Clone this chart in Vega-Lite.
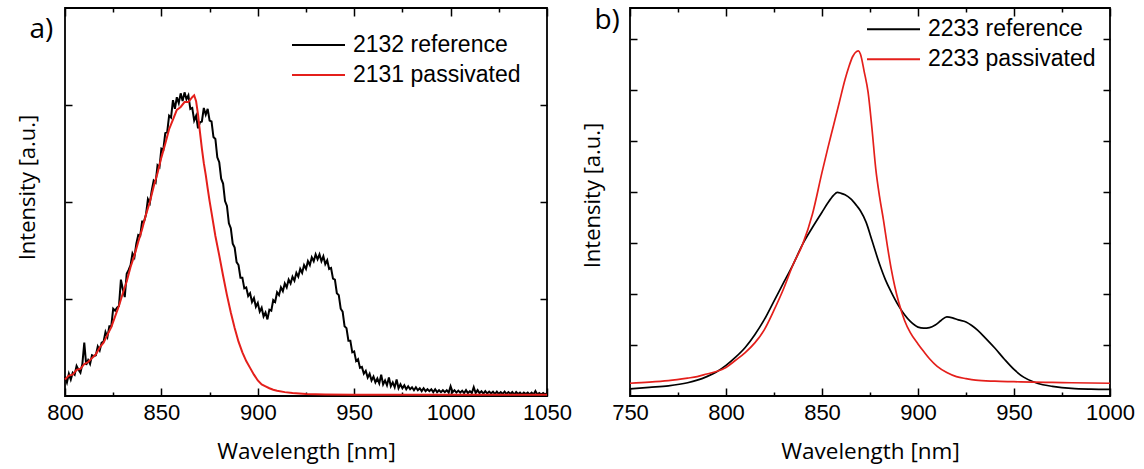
{
"$schema": "https://vega.github.io/schema/vega-lite/v6.json",
"background": "white",
"padding": {"left": 15, "top": 6, "right": 10, "bottom": 12},
"bounds": "flush",
"spacing": 83,
"config": {
  "view": {"stroke": "black", "strokeWidth": 1.8},
  "axis": {"grid": false, "domain": false, "minExtent": 0, "labelFont": "Liberation Sans", "labelFontSize": 22, "labelColor": "black", "titleFont": "Open Sans", "titleFontWeight": "normal", "titleColor": "black", "tickColor": "black", "tickWidth": 1.5, "labelFlush": false, "labelOverlap": false, "labelBound": false, "format": "d"},
  "legend": {"orient": "none", "title": null, "symbolType": "stroke", "symbolSize": 2809, "symbolStrokeWidth": 2, "symbolOpacity": 1, "clipHeight": 23, "labelFont": "Liberation Sans", "labelFontSize": 23, "labelColor": "black", "labelOffset": 7, "rowPadding": 6, "padding": 0, "labelLimit": 400}
},
"datasets": {
"pa": [{"label": "a)"}],
"pb": [{"label": "b)"}],
"a": [
{"w":800,"i":0.20,"s":"2132 reference"},{"w":801,"i":0.14,"s":"2132 reference"},{"w":802,"i":0.23,"s":"2132 reference"},{"w":803,"i":0.17,"s":"2132 reference"},{"w":804,"i":0.24,"s":"2132 reference"},{"w":805,"i":0.22,"s":"2132 reference"},{"w":806,"i":0.31,"s":"2132 reference"},{"w":807,"i":0.27,"s":"2132 reference"},{"w":808,"i":0.24,"s":"2132 reference"},{"w":809,"i":0.33,"s":"2132 reference"},
{"w":810,"i":0.55,"s":"2132 reference"},{"w":811,"i":0.32,"s":"2132 reference"},{"w":812,"i":0.37,"s":"2132 reference"},{"w":813,"i":0.33,"s":"2132 reference"},{"w":814,"i":0.42,"s":"2132 reference"},{"w":815,"i":0.41,"s":"2132 reference"},{"w":816,"i":0.42,"s":"2132 reference"},{"w":817,"i":0.51,"s":"2132 reference"},{"w":818,"i":0.47,"s":"2132 reference"},{"w":819,"i":0.55,"s":"2132 reference"},
{"w":820,"i":0.56,"s":"2132 reference"},{"w":821,"i":0.66,"s":"2132 reference"},{"w":822,"i":0.61,"s":"2132 reference"},{"w":823,"i":0.72,"s":"2132 reference"},{"w":824,"i":0.72,"s":"2132 reference"},{"w":825,"i":0.90,"s":"2132 reference"},{"w":826,"i":0.88,"s":"2132 reference"},{"w":827,"i":0.91,"s":"2132 reference"},{"w":828,"i":0.93,"s":"2132 reference"},{"w":829,"i":1.20,"s":"2132 reference"},
{"w":830,"i":1.10,"s":"2132 reference"},{"w":831,"i":1.02,"s":"2132 reference"},{"w":832,"i":1.26,"s":"2132 reference"},{"w":833,"i":1.30,"s":"2132 reference"},{"w":834,"i":1.35,"s":"2132 reference"},{"w":835,"i":1.47,"s":"2132 reference"},{"w":836,"i":1.43,"s":"2132 reference"},{"w":837,"i":1.57,"s":"2132 reference"},{"w":838,"i":1.66,"s":"2132 reference"},{"w":839,"i":1.65,"s":"2132 reference"},
{"w":840,"i":1.80,"s":"2132 reference"},{"w":841,"i":1.80,"s":"2132 reference"},{"w":842,"i":1.87,"s":"2132 reference"},{"w":843,"i":2.03,"s":"2132 reference"},{"w":844,"i":1.99,"s":"2132 reference"},{"w":845,"i":2.12,"s":"2132 reference"},{"w":846,"i":2.22,"s":"2132 reference"},{"w":847,"i":2.20,"s":"2132 reference"},{"w":848,"i":2.38,"s":"2132 reference"},{"w":849,"i":2.36,"s":"2132 reference"},
{"w":850,"i":2.55,"s":"2132 reference"},{"w":851,"i":2.54,"s":"2132 reference"},{"w":852,"i":2.71,"s":"2132 reference"},{"w":853,"i":2.72,"s":"2132 reference"},{"w":854,"i":2.89,"s":"2132 reference"},{"w":855,"i":2.87,"s":"2132 reference"},{"w":856,"i":3.05,"s":"2132 reference"},{"w":857,"i":2.96,"s":"2132 reference"},{"w":858,"i":3.08,"s":"2132 reference"},{"w":859,"i":3.02,"s":"2132 reference"},
{"w":860,"i":3.12,"s":"2132 reference"},{"w":861,"i":3.04,"s":"2132 reference"},{"w":862,"i":3.13,"s":"2132 reference"},{"w":863,"i":3.06,"s":"2132 reference"},{"w":864,"i":3.10,"s":"2132 reference"},{"w":865,"i":2.96,"s":"2132 reference"},{"w":866,"i":2.97,"s":"2132 reference"},{"w":867,"i":2.84,"s":"2132 reference"},{"w":868,"i":2.89,"s":"2132 reference"},{"w":869,"i":2.76,"s":"2132 reference"},
{"w":870,"i":2.82,"s":"2132 reference"},{"w":871,"i":2.83,"s":"2132 reference"},{"w":872,"i":2.97,"s":"2132 reference"},{"w":873,"i":2.90,"s":"2132 reference"},{"w":874,"i":2.96,"s":"2132 reference"},{"w":875,"i":2.84,"s":"2132 reference"},{"w":876,"i":2.83,"s":"2132 reference"},{"w":877,"i":2.67,"s":"2132 reference"},{"w":878,"i":2.65,"s":"2132 reference"},{"w":879,"i":2.46,"s":"2132 reference"},
{"w":880,"i":2.41,"s":"2132 reference"},{"w":881,"i":2.24,"s":"2132 reference"},{"w":882,"i":2.19,"s":"2132 reference"},{"w":883,"i":2.01,"s":"2132 reference"},{"w":884,"i":1.96,"s":"2132 reference"},{"w":885,"i":1.78,"s":"2132 reference"},{"w":886,"i":1.73,"s":"2132 reference"},{"w":887,"i":1.57,"s":"2132 reference"},{"w":888,"i":1.53,"s":"2132 reference"},{"w":889,"i":1.38,"s":"2132 reference"},
{"w":890,"i":1.35,"s":"2132 reference"},{"w":891,"i":1.22,"s":"2132 reference"},{"w":892,"i":1.22,"s":"2132 reference"},{"w":893,"i":1.11,"s":"2132 reference"},{"w":894,"i":1.12,"s":"2132 reference"},{"w":895,"i":1.03,"s":"2132 reference"},{"w":896,"i":1.06,"s":"2132 reference"},{"w":897,"i":0.97,"s":"2132 reference"},{"w":898,"i":1.01,"s":"2132 reference"},{"w":899,"i":0.92,"s":"2132 reference"},
{"w":900,"i":0.96,"s":"2132 reference"},{"w":901,"i":0.87,"s":"2132 reference"},{"w":902,"i":0.91,"s":"2132 reference"},{"w":903,"i":0.82,"s":"2132 reference"},{"w":904,"i":0.86,"s":"2132 reference"},{"w":905,"i":0.79,"s":"2132 reference"},{"w":906,"i":0.89,"s":"2132 reference"},{"w":907,"i":0.88,"s":"2132 reference"},{"w":908,"i":0.99,"s":"2132 reference"},{"w":909,"i":0.97,"s":"2132 reference"},
{"w":910,"i":1.07,"s":"2132 reference"},{"w":911,"i":1.04,"s":"2132 reference"},{"w":912,"i":1.12,"s":"2132 reference"},{"w":913,"i":1.08,"s":"2132 reference"},{"w":914,"i":1.16,"s":"2132 reference"},{"w":915,"i":1.12,"s":"2132 reference"},{"w":916,"i":1.20,"s":"2132 reference"},{"w":917,"i":1.16,"s":"2132 reference"},{"w":918,"i":1.23,"s":"2132 reference"},{"w":919,"i":1.19,"s":"2132 reference"},
{"w":920,"i":1.27,"s":"2132 reference"},{"w":921,"i":1.23,"s":"2132 reference"},{"w":922,"i":1.31,"s":"2132 reference"},{"w":923,"i":1.27,"s":"2132 reference"},{"w":924,"i":1.35,"s":"2132 reference"},{"w":925,"i":1.31,"s":"2132 reference"},{"w":926,"i":1.39,"s":"2132 reference"},{"w":927,"i":1.35,"s":"2132 reference"},{"w":928,"i":1.43,"s":"2132 reference"},{"w":929,"i":1.39,"s":"2132 reference"},
{"w":930,"i":1.46,"s":"2132 reference"},{"w":931,"i":1.41,"s":"2132 reference"},{"w":932,"i":1.46,"s":"2132 reference"},{"w":933,"i":1.39,"s":"2132 reference"},{"w":934,"i":1.44,"s":"2132 reference"},{"w":935,"i":1.36,"s":"2132 reference"},{"w":936,"i":1.40,"s":"2132 reference"},{"w":937,"i":1.31,"s":"2132 reference"},{"w":938,"i":1.32,"s":"2132 reference"},{"w":939,"i":1.21,"s":"2132 reference"},
{"w":940,"i":1.20,"s":"2132 reference"},{"w":941,"i":1.06,"s":"2132 reference"},{"w":942,"i":1.04,"s":"2132 reference"},{"w":943,"i":0.90,"s":"2132 reference"},{"w":944,"i":0.87,"s":"2132 reference"},{"w":945,"i":0.72,"s":"2132 reference"},{"w":946,"i":0.70,"s":"2132 reference"},{"w":947,"i":0.57,"s":"2132 reference"},{"w":948,"i":0.57,"s":"2132 reference"},{"w":949,"i":0.45,"s":"2132 reference"},
{"w":950,"i":0.46,"s":"2132 reference"},{"w":951,"i":0.36,"s":"2132 reference"},{"w":952,"i":0.38,"s":"2132 reference"},{"w":953,"i":0.29,"s":"2132 reference"},{"w":954,"i":0.30,"s":"2132 reference"},{"w":955,"i":0.23,"s":"2132 reference"},{"w":956,"i":0.26,"s":"2132 reference"},{"w":957,"i":0.19,"s":"2132 reference"},{"w":958,"i":0.23,"s":"2132 reference"},{"w":959,"i":0.16,"s":"2132 reference"},
{"w":960,"i":0.20,"s":"2132 reference"},{"w":961,"i":0.14,"s":"2132 reference"},{"w":962,"i":0.18,"s":"2132 reference"},{"w":963,"i":0.13,"s":"2132 reference"},{"w":964,"i":0.22,"s":"2132 reference"},{"w":965,"i":0.12,"s":"2132 reference"},{"w":966,"i":0.16,"s":"2132 reference"},{"w":967,"i":0.11,"s":"2132 reference"},{"w":968,"i":0.19,"s":"2132 reference"},{"w":969,"i":0.10,"s":"2132 reference"},
{"w":970,"i":0.14,"s":"2132 reference"},{"w":971,"i":0.09,"s":"2132 reference"},{"w":972,"i":0.17,"s":"2132 reference"},{"w":973,"i":0.08,"s":"2132 reference"},{"w":974,"i":0.12,"s":"2132 reference"},{"w":975,"i":0.08,"s":"2132 reference"},{"w":976,"i":0.11,"s":"2132 reference"},{"w":977,"i":0.07,"s":"2132 reference"},{"w":978,"i":0.10,"s":"2132 reference"},{"w":979,"i":0.07,"s":"2132 reference"},
{"w":980,"i":0.09,"s":"2132 reference"},{"w":981,"i":0.06,"s":"2132 reference"},{"w":982,"i":0.09,"s":"2132 reference"},{"w":983,"i":0.06,"s":"2132 reference"},{"w":984,"i":0.08,"s":"2132 reference"},{"w":985,"i":0.05,"s":"2132 reference"},{"w":986,"i":0.08,"s":"2132 reference"},{"w":987,"i":0.05,"s":"2132 reference"},{"w":988,"i":0.07,"s":"2132 reference"},{"w":989,"i":0.05,"s":"2132 reference"},
{"w":990,"i":0.07,"s":"2132 reference"},{"w":991,"i":0.04,"s":"2132 reference"},{"w":992,"i":0.07,"s":"2132 reference"},{"w":993,"i":0.04,"s":"2132 reference"},{"w":994,"i":0.06,"s":"2132 reference"},{"w":995,"i":0.04,"s":"2132 reference"},{"w":996,"i":0.06,"s":"2132 reference"},{"w":997,"i":0.04,"s":"2132 reference"},{"w":998,"i":0.06,"s":"2132 reference"},{"w":999,"i":0.035,"s":"2132 reference"},
{"w":1000,"i":0.10,"s":"2132 reference"},{"w":1001,"i":0.04,"s":"2132 reference"},{"w":1002,"i":0.06,"s":"2132 reference"},{"w":1003,"i":0.035,"s":"2132 reference"},{"w":1004,"i":0.055,"s":"2132 reference"},{"w":1005,"i":0.035,"s":"2132 reference"},{"w":1006,"i":0.055,"s":"2132 reference"},{"w":1007,"i":0.03,"s":"2132 reference"},{"w":1008,"i":0.06,"s":"2132 reference"},{"w":1009,"i":0.03,"s":"2132 reference"},
{"w":1010,"i":0.05,"s":"2132 reference"},{"w":1011,"i":0.03,"s":"2132 reference"},{"w":1012,"i":0.09,"s":"2132 reference"},{"w":1013,"i":0.03,"s":"2132 reference"},{"w":1014,"i":0.06,"s":"2132 reference"},{"w":1015,"i":0.03,"s":"2132 reference"},{"w":1016,"i":0.05,"s":"2132 reference"},{"w":1017,"i":0.025,"s":"2132 reference"},{"w":1018,"i":0.05,"s":"2132 reference"},{"w":1019,"i":0.025,"s":"2132 reference"},
{"w":1020,"i":0.045,"s":"2132 reference"},{"w":1021,"i":0.025,"s":"2132 reference"},{"w":1022,"i":0.045,"s":"2132 reference"},{"w":1023,"i":0.02,"s":"2132 reference"},{"w":1024,"i":0.045,"s":"2132 reference"},{"w":1025,"i":0.02,"s":"2132 reference"},{"w":1026,"i":0.04,"s":"2132 reference"},{"w":1027,"i":0.02,"s":"2132 reference"},{"w":1028,"i":0.045,"s":"2132 reference"},{"w":1029,"i":0.02,"s":"2132 reference"},
{"w":1030,"i":0.04,"s":"2132 reference"},{"w":1031,"i":0.02,"s":"2132 reference"},{"w":1032,"i":0.04,"s":"2132 reference"},{"w":1033,"i":0.015,"s":"2132 reference"},{"w":1034,"i":0.04,"s":"2132 reference"},{"w":1035,"i":0.02,"s":"2132 reference"},{"w":1036,"i":0.035,"s":"2132 reference"},{"w":1037,"i":0.015,"s":"2132 reference"},{"w":1038,"i":0.035,"s":"2132 reference"},{"w":1039,"i":0.02,"s":"2132 reference"},
{"w":1040,"i":0.035,"s":"2132 reference"},{"w":1041,"i":0.015,"s":"2132 reference"},{"w":1042,"i":0.035,"s":"2132 reference"},{"w":1043,"i":0.015,"s":"2132 reference"},{"w":1044,"i":0.05,"s":"2132 reference"},{"w":1045,"i":0.015,"s":"2132 reference"},{"w":1046,"i":0.03,"s":"2132 reference"},{"w":1047,"i":0.015,"s":"2132 reference"},{"w":1048,"i":0.03,"s":"2132 reference"},{"w":1049,"i":0.015,"s":"2132 reference"},
{"w":1050,"i":0.03,"s":"2132 reference"},
{"w":800,"i":0.17,"s":"2131 passivated"},{"w":802,"i":0.21,"s":"2131 passivated"},{"w":804,"i":0.22,"s":"2131 passivated"},{"w":806,"i":0.27,"s":"2131 passivated"},{"w":808,"i":0.28,"s":"2131 passivated"},{"w":810,"i":0.33,"s":"2131 passivated"},{"w":812,"i":0.35,"s":"2131 passivated"},{"w":814,"i":0.39,"s":"2131 passivated"},{"w":816,"i":0.43,"s":"2131 passivated"},{"w":818,"i":0.50,"s":"2131 passivated"},
{"w":820,"i":0.55,"s":"2131 passivated"},{"w":822,"i":0.63,"s":"2131 passivated"},{"w":824,"i":0.71,"s":"2131 passivated"},{"w":826,"i":0.82,"s":"2131 passivated"},{"w":828,"i":0.93,"s":"2131 passivated"},{"w":830,"i":1.06,"s":"2131 passivated"},{"w":832,"i":1.18,"s":"2131 passivated"},{"w":834,"i":1.33,"s":"2131 passivated"},{"w":836,"i":1.45,"s":"2131 passivated"},{"w":838,"i":1.59,"s":"2131 passivated"},
{"w":840,"i":1.72,"s":"2131 passivated"},{"w":842,"i":1.87,"s":"2131 passivated"},{"w":844,"i":2.00,"s":"2131 passivated"},{"w":846,"i":2.16,"s":"2131 passivated"},{"w":848,"i":2.30,"s":"2131 passivated"},{"w":850,"i":2.46,"s":"2131 passivated"},{"w":852,"i":2.60,"s":"2131 passivated"},{"w":854,"i":2.75,"s":"2131 passivated"},{"w":856,"i":2.85,"s":"2131 passivated"},{"w":858,"i":2.95,"s":"2131 passivated"},
{"w":860,"i":2.98,"s":"2131 passivated"},{"w":862,"i":3.03,"s":"2131 passivated"},{"w":864,"i":3.03,"s":"2131 passivated"},{"w":866,"i":3.08,"s":"2131 passivated"},{"w":867,"i":3.10,"s":"2131 passivated"},{"w":868,"i":3.04,"s":"2131 passivated"},{"w":869,"i":2.90,"s":"2131 passivated"},{"w":870,"i":2.72,"s":"2131 passivated"},{"w":871,"i":2.55,"s":"2131 passivated"},{"w":872,"i":2.40,"s":"2131 passivated"},
{"w":873,"i":2.28,"s":"2131 passivated"},{"w":874,"i":2.14,"s":"2131 passivated"},{"w":875,"i":2.01,"s":"2131 passivated"},{"w":876,"i":1.89,"s":"2131 passivated"},{"w":878,"i":1.65,"s":"2131 passivated"},{"w":880,"i":1.45,"s":"2131 passivated"},{"w":882,"i":1.24,"s":"2131 passivated"},{"w":884,"i":1.04,"s":"2131 passivated"},{"w":886,"i":0.86,"s":"2131 passivated"},{"w":888,"i":0.70,"s":"2131 passivated"},
{"w":890,"i":0.56,"s":"2131 passivated"},{"w":892,"i":0.45,"s":"2131 passivated"},{"w":894,"i":0.36,"s":"2131 passivated"},{"w":896,"i":0.29,"s":"2131 passivated"},{"w":898,"i":0.22,"s":"2131 passivated"},{"w":900,"i":0.16,"s":"2131 passivated"},{"w":902,"i":0.12,"s":"2131 passivated"},{"w":904,"i":0.10,"s":"2131 passivated"},{"w":906,"i":0.08,"s":"2131 passivated"},{"w":908,"i":0.065,"s":"2131 passivated"},
{"w":910,"i":0.055,"s":"2131 passivated"},{"w":914,"i":0.04,"s":"2131 passivated"},{"w":918,"i":0.03,"s":"2131 passivated"},{"w":925,"i":0.02,"s":"2131 passivated"},{"w":935,"i":0.015,"s":"2131 passivated"},{"w":950,"i":0.012,"s":"2131 passivated"},{"w":975,"i":0.012,"s":"2131 passivated"},{"w":1000,"i":0.012,"s":"2131 passivated"},{"w":1025,"i":0.012,"s":"2131 passivated"},{"w":1050,"i":0.012,"s":"2131 passivated"}
],
"b": [
{"w":750,"i":0.14,"s":"2233 reference"},{"w":760,"i":0.17,"s":"2233 reference"},{"w":770,"i":0.20,"s":"2233 reference"},{"w":780,"i":0.26,"s":"2233 reference"},{"w":785,"i":0.31,"s":"2233 reference"},{"w":790,"i":0.38,"s":"2233 reference"},{"w":795,"i":0.47,"s":"2233 reference"},{"w":800,"i":0.60,"s":"2233 reference"},{"w":805,"i":0.76,"s":"2233 reference"},{"w":810,"i":0.95,"s":"2233 reference"},
{"w":815,"i":1.20,"s":"2233 reference"},{"w":820,"i":1.50,"s":"2233 reference"},{"w":825,"i":1.86,"s":"2233 reference"},{"w":830,"i":2.22,"s":"2233 reference"},{"w":835,"i":2.58,"s":"2233 reference"},{"w":840,"i":2.98,"s":"2233 reference"},{"w":845,"i":3.30,"s":"2233 reference"},{"w":850,"i":3.60,"s":"2233 reference"},{"w":853,"i":3.78,"s":"2233 reference"},{"w":856,"i":3.93,"s":"2233 reference"},
{"w":858,"i":3.99,"s":"2233 reference"},{"w":860,"i":3.97,"s":"2233 reference"},{"w":862,"i":3.94,"s":"2233 reference"},{"w":865,"i":3.86,"s":"2233 reference"},{"w":868,"i":3.73,"s":"2233 reference"},{"w":870,"i":3.63,"s":"2233 reference"},{"w":873,"i":3.40,"s":"2233 reference"},{"w":876,"i":3.05,"s":"2233 reference"},{"w":880,"i":2.58,"s":"2233 reference"},{"w":883,"i":2.28,"s":"2233 reference"},
{"w":886,"i":2.04,"s":"2233 reference"},{"w":890,"i":1.76,"s":"2233 reference"},{"w":893,"i":1.59,"s":"2233 reference"},{"w":896,"i":1.46,"s":"2233 reference"},{"w":900,"i":1.35,"s":"2233 reference"},{"w":903,"i":1.33,"s":"2233 reference"},{"w":906,"i":1.34,"s":"2233 reference"},{"w":909,"i":1.39,"s":"2233 reference"},{"w":912,"i":1.48,"s":"2233 reference"},{"w":915,"i":1.55,"s":"2233 reference"},
{"w":918,"i":1.53,"s":"2233 reference"},{"w":921,"i":1.49,"s":"2233 reference"},{"w":925,"i":1.45,"s":"2233 reference"},{"w":928,"i":1.38,"s":"2233 reference"},{"w":931,"i":1.29,"s":"2233 reference"},{"w":935,"i":1.14,"s":"2233 reference"},{"w":940,"i":0.94,"s":"2233 reference"},{"w":945,"i":0.72,"s":"2233 reference"},{"w":950,"i":0.52,"s":"2233 reference"},{"w":955,"i":0.37,"s":"2233 reference"},
{"w":960,"i":0.28,"s":"2233 reference"},{"w":965,"i":0.22,"s":"2233 reference"},{"w":970,"i":0.19,"s":"2233 reference"},{"w":980,"i":0.15,"s":"2233 reference"},{"w":990,"i":0.135,"s":"2233 reference"},{"w":1000,"i":0.13,"s":"2233 reference"},
{"w":750,"i":0.25,"s":"2233 passivated"},{"w":760,"i":0.27,"s":"2233 passivated"},{"w":770,"i":0.30,"s":"2233 passivated"},{"w":780,"i":0.35,"s":"2233 passivated"},{"w":785,"i":0.38,"s":"2233 passivated"},{"w":790,"i":0.43,"s":"2233 passivated"},{"w":795,"i":0.48,"s":"2233 passivated"},{"w":800,"i":0.56,"s":"2233 passivated"},{"w":805,"i":0.70,"s":"2233 passivated"},{"w":810,"i":0.85,"s":"2233 passivated"},
{"w":815,"i":1.04,"s":"2233 passivated"},{"w":820,"i":1.30,"s":"2233 passivated"},{"w":825,"i":1.68,"s":"2233 passivated"},{"w":830,"i":2.10,"s":"2233 passivated"},{"w":835,"i":2.58,"s":"2233 passivated"},{"w":840,"i":2.98,"s":"2233 passivated"},{"w":845,"i":3.56,"s":"2233 passivated"},{"w":850,"i":4.38,"s":"2233 passivated"},{"w":853,"i":4.85,"s":"2233 passivated"},{"w":856,"i":5.30,"s":"2233 passivated"},
{"w":859,"i":5.75,"s":"2233 passivated"},{"w":862,"i":6.20,"s":"2233 passivated"},{"w":864,"i":6.45,"s":"2233 passivated"},{"w":866,"i":6.65,"s":"2233 passivated"},{"w":868,"i":6.75,"s":"2233 passivated"},{"w":869,"i":6.76,"s":"2233 passivated"},{"w":870,"i":6.70,"s":"2233 passivated"},{"w":872,"i":6.35,"s":"2233 passivated"},{"w":874,"i":5.95,"s":"2233 passivated"},{"w":876,"i":5.25,"s":"2233 passivated"},
{"w":878,"i":4.45,"s":"2233 passivated"},{"w":880,"i":3.90,"s":"2233 passivated"},{"w":882,"i":3.45,"s":"2233 passivated"},{"w":884,"i":2.95,"s":"2233 passivated"},{"w":886,"i":2.50,"s":"2233 passivated"},{"w":888,"i":2.13,"s":"2233 passivated"},{"w":890,"i":1.83,"s":"2233 passivated"},{"w":893,"i":1.48,"s":"2233 passivated"},{"w":896,"i":1.24,"s":"2233 passivated"},{"w":900,"i":1.02,"s":"2233 passivated"},
{"w":903,"i":0.87,"s":"2233 passivated"},{"w":906,"i":0.73,"s":"2233 passivated"},{"w":910,"i":0.58,"s":"2233 passivated"},{"w":915,"i":0.46,"s":"2233 passivated"},{"w":920,"i":0.38,"s":"2233 passivated"},{"w":925,"i":0.34,"s":"2233 passivated"},{"w":930,"i":0.31,"s":"2233 passivated"},{"w":940,"i":0.29,"s":"2233 passivated"},{"w":950,"i":0.28,"s":"2233 passivated"},{"w":960,"i":0.27,"s":"2233 passivated"},
{"w":970,"i":0.265,"s":"2233 passivated"},{"w":980,"i":0.26,"s":"2233 passivated"},{"w":990,"i":0.255,"s":"2233 passivated"},{"w":1000,"i":0.25,"s":"2233 passivated"}
]
},
"hconcat": [
{
  "width": 482, "height": 388,
  "layer": [
    {"data": {"name": "a"},
     "mark": {"type": "line", "strokeWidth": 2},
     "encoding": {
       "x": {"field": "w", "type": "quantitative", "scale": {"domain": [800, 1050], "nice": false, "zero": false},
             "axis": {"orient": "bottom", "values": [800, 850, 900, 950, 1000, 1050], "ticks": false, "tickSize": 0, "labelPadding": 23.5, "labelBaseline": "alphabetic", "title": "Wavelength [nm]", "titleFontSize": 22.5, "titleBaseline": "alphabetic", "titleY": 62.5}},
       "y": {"field": "i", "type": "quantitative", "scale": {"domain": [0, 4], "nice": false, "zero": false},
             "axis": {"orient": "left", "values": [1, 2, 3], "labels": false, "tickSize": -7, "title": "Intensity [a.u.]", "titleFontSize": 22, "titleBaseline": "alphabetic", "titleX": -31, "titleY": 179}},
       "color": {"field": "s", "type": "nominal", "scale": {"domain": ["2132 reference", "2131 passivated"], "range": ["black", "#e41f1b"]},
                 "legend": {"legendX": 226, "legendY": 25.5}}
     }},
    {"data": {"name": "a"},
     "mark": {"type": "point", "opacity": 0},
     "encoding": {
       "x": {"field": "w", "type": "quantitative", "axis": {"orient": "bottom", "values": [800, 825, 850, 875, 900, 925, 950, 975, 1000, 1025, 1050], "labels": false, "title": null, "tickSize": {"condition": {"test": "datum.value % 50 === 0", "value": -8}, "value": -4}}},
       "y": {"field": "i", "type": "quantitative", "axis": {"orient": "right", "values": [1, 2, 3], "labels": false, "title": null, "tickSize": -7}}
     }},
    {"data": {"name": "a"},
     "mark": {"type": "point", "opacity": 0},
     "encoding": {
       "x": {"field": "w", "type": "quantitative", "axis": {"orient": "top", "values": [800, 825, 850, 875, 900, 925, 950, 975, 1000, 1025, 1050], "labels": false, "title": null, "tickSize": {"condition": {"test": "datum.value % 50 === 0", "value": -8}, "value": -4}}}
     }},
    {"data": {"name": "pa"},
     "mark": {"type": "text", "align": "left", "baseline": "alphabetic", "font": "Open Sans", "fontSize": 28, "color": "black", "clip": false},
     "encoding": {
       "text": {"field": "label", "type": "nominal"},
       "x": {"datum": 781.6, "type": "quantitative", "axis": null},
       "y": {"datum": 3.694, "type": "quantitative", "axis": null}
     }}
  ],
  "resolve": {"axis": {"x": "independent", "y": "independent"}}
},
{
  "width": 480, "height": 388,
  "layer": [
    {"data": {"name": "b"},
     "mark": {"type": "line", "strokeWidth": 1.7, "interpolate": "monotone"},
     "encoding": {
       "x": {"field": "w", "type": "quantitative", "scale": {"domain": [750, 1000], "nice": false, "zero": false},
             "axis": {"orient": "bottom", "values": [750, 800, 850, 900, 950, 1000], "ticks": false, "tickSize": 0, "labelPadding": 23.5, "labelBaseline": "alphabetic", "title": "Wavelength [nm]", "titleFontSize": 22.5, "titleBaseline": "alphabetic", "titleY": 62.5}},
       "y": {"field": "i", "type": "quantitative", "scale": {"domain": [0, 7.6], "nice": false, "zero": false},
             "axis": {"orient": "left", "values": [1, 2, 3, 4, 5, 6, 7], "labels": false, "tickSize": -7, "title": "Intensity [a.u.]", "titleFontSize": 22, "titleBaseline": "alphabetic", "titleX": -31, "titleY": 187}},
       "color": {"field": "s", "type": "nominal", "scale": {"domain": ["2233 reference", "2233 passivated"], "range": ["black", "#e41f1b"]},
                 "legend": {"legendX": 236, "legendY": 9.8}}
     }},
    {"data": {"name": "b"},
     "mark": {"type": "point", "opacity": 0},
     "encoding": {
       "x": {"field": "w", "type": "quantitative", "axis": {"orient": "bottom", "values": [750, 775, 800, 825, 850, 875, 900, 925, 950, 975, 1000], "labels": false, "title": null, "tickSize": {"condition": {"test": "datum.value % 50 === 0", "value": -8}, "value": -4}}},
       "y": {"field": "i", "type": "quantitative", "axis": {"orient": "right", "values": [1, 2, 3, 4, 5, 6, 7], "labels": false, "title": null, "tickSize": -7}}
     }},
    {"data": {"name": "b"},
     "mark": {"type": "point", "opacity": 0},
     "encoding": {
       "x": {"field": "w", "type": "quantitative", "axis": {"orient": "top", "values": [750, 775, 800, 825, 850, 875, 900, 925, 950, 975, 1000], "labels": false, "title": null, "tickSize": {"condition": {"test": "datum.value % 50 === 0", "value": -8}, "value": -4}}}
     }},
    {"data": {"name": "pb"},
     "mark": {"type": "text", "align": "left", "baseline": "alphabetic", "font": "Open Sans", "fontSize": 28, "color": "black", "clip": false},
     "encoding": {
       "text": {"field": "label", "type": "nominal"},
       "x": {"datum": 731.5, "type": "quantitative", "axis": null},
       "y": {"datum": 7.179, "type": "quantitative", "axis": null}
     }}
  ],
  "resolve": {"axis": {"x": "independent", "y": "independent"}}
}
],
"resolve": {"scale": {"color": "independent", "x": "independent", "y": "independent"}}
}
